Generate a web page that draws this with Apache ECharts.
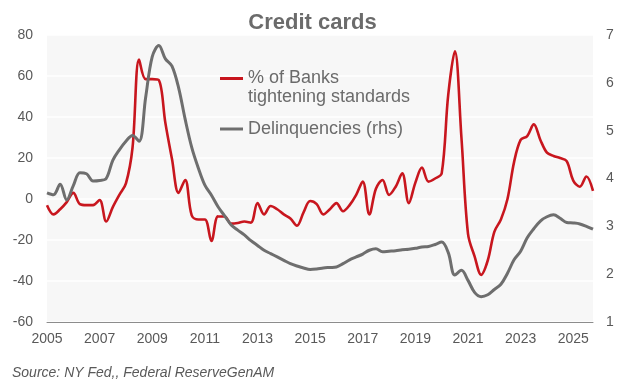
<!DOCTYPE html>
<html>
<head>
<meta charset="utf-8">
<script src="https://cdn.jsdelivr.net/npm/echarts@6/dist/echarts.min.js"></script>
<style>html,body{margin:0;padding:0;background:#fff}#c{width:625px;height:387px}</style>
</head>
<body>
<div id="c"></div>
<script>
const years = [2005,2006,2007,2008,2009,2010,2011,2012,2013,2014,2015,2016,2017,2018,2019,2020,2021,2022,2023,2024,2025];
const tickLabels = ['2005','2007','2009','2011','2013','2015','2017','2019','2021','2023','2025'];
const seriesNames = ['% of Banks\ntightening standards', 'Delinquencies (rhs)'];
const tightening = [-3,-7.5,-5,-1.5,3,-2.5,-3,-3,-0.5,-11,
  -4,2,7.6,25,68,58.5,58.5,58,37,19.5,
  3,9.3,-8,-10,-10,-20.5,-8.5,-8.5,-12,-11.7,
  -11,-11.5,-2,-7.5,-3.4,-5,-7.5,-9.5,-13,-6.5,
  -1,-2.5,-7.5,-5,-2,-6,-3,2,8.5,-7.5,
  5,9.3,2,6,12.5,-2,8,15.3,8.5,10,
  12.5,51,72,30,-17,-28,-37,-30,-16,-10,
  0,18,28.8,30.7,36.4,28.8,22.6,21,20,18.5,
  9,6,11,4];
const delinquencies = [3.70,3.66,3.88,3.55,3.85,4.12,4.10,3.95,3.96,4.00,
  4.38,4.60,4.78,4.90,4.78,5.70,6.55,6.78,6.50,6.35,
  5.90,5.24,4.65,4.22,3.86,3.65,3.41,3.22,3.03,2.92,
  2.82,2.70,2.60,2.50,2.43,2.36,2.29,2.22,2.17,2.13,
  2.10,2.11,2.13,2.14,2.15,2.22,2.30,2.36,2.42,2.50,
  2.53,2.47,2.48,2.49,2.51,2.52,2.54,2.57,2.58,2.62,
  2.67,2.45,1.98,2.08,1.87,1.62,1.53,1.57,1.68,1.79,
  2.02,2.30,2.48,2.76,2.95,3.11,3.20,3.24,3.17,3.08,
  3.07,3.05,3.00,2.94];

const categories = [];
years.forEach(y => { for (let q = 1; q <= 4; q++) categories.push(y + 'Q' + q); });

const txt = '#595959';
const chart = echarts.init(document.getElementById('c'), null, {renderer: 'canvas'});
chart.setOption({
  animation: false,
  backgroundColor: '#ffffff',
  textStyle: {fontFamily: 'Liberation Sans, Arial, sans-serif'},
  title: {
    text: 'Credit cards', left: 'center', top: 7,
    textStyle: {fontSize: 22, fontWeight: 'bold', color: '#6b6b6b', fontFamily: 'Liberation Sans, Arial, sans-serif'}
  },
  grid: {left: 47, right: 32, top: 35, bottom: 65, show: true, backgroundColor: '#f7f7f7', borderWidth: 0},
  legend: [
    {
      data: [seriesNames[0]], left: 220, top: 50, padding: 0,
      icon: 'rect', itemWidth: 23, itemHeight: 3,
      formatter: (name) => '\n' + name,
      textStyle: {fontSize: 18, color: '#6b6b6b', lineHeight: 19}
    },
    {
      data: [seriesNames[1]], left: 220, top: 119.5, padding: 0,
      icon: 'rect', itemWidth: 23, itemHeight: 3,
      textStyle: {fontSize: 18, color: '#6b6b6b', lineHeight: 19}
    }
  ],
  xAxis: {
    type: 'category', data: categories, boundaryGap: false,
    axisLine: {show: true, onZero: false, lineStyle: {color: '#8c8c8c', width: 1}},
    axisTick: {show: false},
    axisLabel: {
      color: txt, fontSize: 14, margin: 10,
      interval: (i) => i % 8 === 0,
      formatter: (v, i) => tickLabels[i / 8]
    },
    splitLine: {show: false}
  },
  yAxis: [
    {
      type: 'value', min: -60, max: 80, interval: 20,
      axisLine: {show: false}, axisTick: {show: false},
      axisLabel: {color: txt, fontSize: 14, margin: 14},
      splitLine: {show: true, lineStyle: {color: '#ffffff', width: 1.5}}
    },
    {
      type: 'value', min: 1, max: 7, interval: 1, position: 'right',
      axisLine: {show: false}, axisTick: {show: false},
      axisLabel: {color: txt, fontSize: 14, margin: 13},
      splitLine: {show: false}
    }
  ],
  series: [
    {
      name: seriesNames[0], type: 'line', data: tightening, yAxisIndex: 0,
      smooth: 0.35, symbol: 'none',
      lineStyle: {color: '#c8161e', width: 2.6}, itemStyle: {color: '#c8161e'}
    },
    {
      name: seriesNames[1], type: 'line', data: delinquencies, yAxisIndex: 1,
      smooth: 0.35, symbol: 'none',
      lineStyle: {color: '#6e6e6e', width: 3}, itemStyle: {color: '#6e6e6e'}
    }
  ],
  graphic: [
    {
      type: 'text', left: 12, top: 366,
      style: {text: 'Source: NY Fed,, Federal ReserveGenAM', fill: txt, font: 'italic 14px "Liberation Sans", Arial, sans-serif'}
    }
  ]
});
</script>
</body>
</html>
